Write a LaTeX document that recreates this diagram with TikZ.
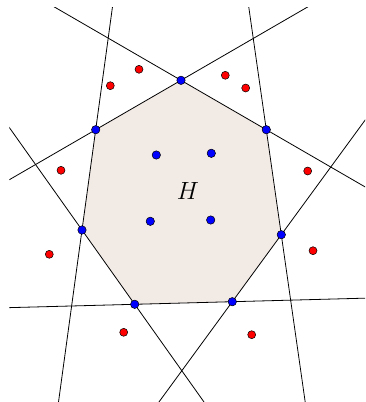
\documentclass[tikz,border=0pt]{standalone}
\usetikzlibrary{calc}
\definecolor{hullfill}{RGB}{242,234,229}
\tikzset{
  bdot/.style={circle,draw=black,line width=0.5pt,fill=blue,inner sep=0pt,minimum size=8.4pt},
  rdot/.style={circle,draw=black,line width=0.5pt,fill=red,inner sep=0pt,minimum size=8pt},
  eline/.style={line width=0.8pt,black}
}
\begin{document}
\begin{tikzpicture}[x=1pt,y=-1pt]
\useasboundingbox (0,0) rectangle (365,402);
% hull vertices
\coordinate (v1) at (181,80.3);
\coordinate (v2) at (266.3,129.7);
\coordinate (v3) at (281.3,234.7);
\coordinate (v4) at (232.3,301.7);
\coordinate (v5) at (134.7,304.3);
\coordinate (v6) at (82,230);
\coordinate (v7) at (95.7,129.7);
\fill[hullfill] (v1)--(v2)--(v3)--(v4)--(v5)--(v6)--(v7)--cycle;
\begin{scope}
\clip (9.3,7) rectangle (365,401);
\foreach \a/\b in {v1/v2,v2/v3,v3/v4,v4/v5,v5/v6,v6/v7,v7/v1}{
  \draw[eline] ($(\a)!-6!(\b)$) -- ($(\b)!-6!(\a)$);
}
\end{scope}
\node at (188,191) {\fontsize{28}{30}\selectfont$H$};
\foreach \v in {v1,v2,v3,v4,v5,v6,v7}{
  \node[bdot] (d\v) at (\v) {};
}
\node[bdot] (i1) at (156.3,155) {};
\node[bdot] (i2) at (211.3,153.3) {};
\node[bdot] (i3) at (150.3,221.3) {};
\node[bdot] (i4) at (210.7,220) {};
\node[rdot] (r1) at (110.3,85.7) {};
\node[rdot] (r2) at (139,69.3) {};
\node[rdot] (r3) at (225.3,75.3) {};
\node[rdot] (r4) at (245.7,88) {};
\node[rdot] (r5) at (61,170.3) {};
\node[rdot] (r6) at (307.7,171) {};
\node[rdot] (r7) at (49.3,254.3) {};
\node[rdot] (r8) at (313,250.7) {};
\node[rdot] (r9) at (123.7,332.3) {};
\node[rdot] (r10) at (251.7,334.7) {};
\end{tikzpicture}
\end{document}
